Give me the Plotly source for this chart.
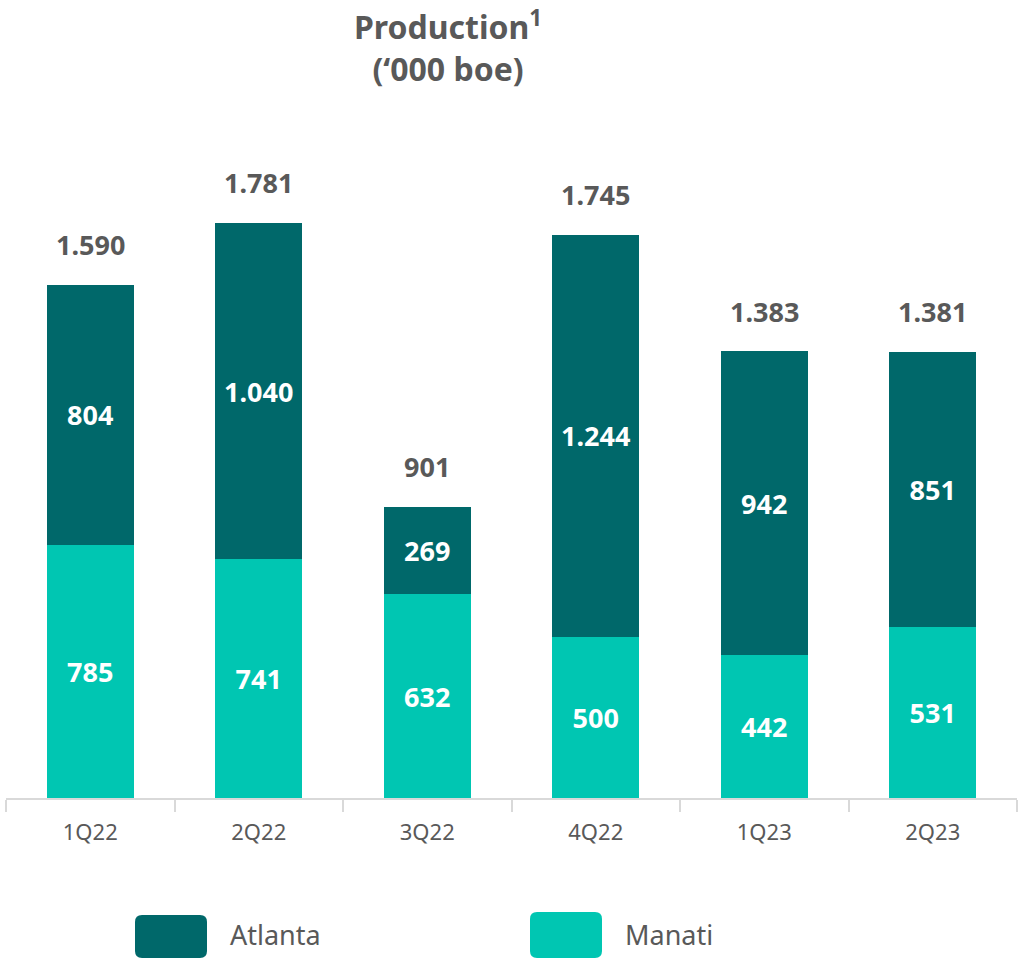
import plotly.graph_objects as go

quarters = ["1Q22", "2Q22", "3Q22", "4Q22", "1Q23", "2Q23"]
manati = [785, 741, 632, 500, 442, 531]
atlanta = [804, 1040, 269, 1244, 942, 851]
totals = [1590, 1781, 901, 1745, 1383, 1381]

C_ATL = "#00686A"
C_MAN = "#00C6B2"
GREY = "#595959"
FONT = "Noto Sans"

W, H = 1018, 960
ML, MR, MT, MB = 6, 1, 120, 162

def px(x):
    return (x - ML) / (W - ML - MR)

def py(y):
    return (H - MB - y) / (H - MT - MB)

def rounded_rect(x0, y0, x1, y1, r):
    X = lambda v: px(v)
    Y = lambda v: py(v)
    return (f"M {X(x0+r)},{Y(y0)} L {X(x1-r)},{Y(y0)} Q {X(x1)},{Y(y0)} {X(x1)},{Y(y0+r)} "
            f"L {X(x1)},{Y(y1-r)} Q {X(x1)},{Y(y1)} {X(x1-r)},{Y(y1)} "
            f"L {X(x0+r)},{Y(y1)} Q {X(x0)},{Y(y1)} {X(x0)},{Y(y1-r)} "
            f"L {X(x0)},{Y(y0+r)} Q {X(x0)},{Y(y0)} {X(x0+r)},{Y(y0)} Z")

fig = go.Figure()
fig.add_trace(go.Bar(
    x=quarters, y=manati, name="Manati", marker_color=C_MAN,
    marker_line_width=0,
    texttemplate="%{y:,}", textposition="inside", insidetextanchor="middle",
    textfont=dict(color="white", size=27, family=FONT, weight="bold"),
    showlegend=False,
))
fig.add_trace(go.Bar(
    x=quarters, y=atlanta, name="Atlanta", marker_color=C_ATL,
    marker_line_width=0,
    texttemplate="%{y:,}", textposition="inside", insidetextanchor="middle",
    textfont=dict(color="white", size=27, family=FONT, weight="bold"),
    showlegend=False,
))

for q, t in zip(quarters, totals):
    fig.add_annotation(
        x=q, y=t, text=f"{t:,}".replace(",", "."), showarrow=False,
        yanchor="bottom", yshift=20,
        font=dict(size=27, color=GREY, family=FONT, weight="bold"),
    )

# title
fig.add_annotation(
    xref="paper", yref="paper", x=px(448), y=py(0), xanchor="center", yanchor="top",
    text="<b>Production<sup>1</sup></b><br><b>(‘000 boe)</b>", showarrow=False,
    font=dict(size=32, color=GREY, family=FONT),
)

# legend
for x0, x1, y0, y1, col, label, tx in [
    (135, 207, 915, 958, C_ATL, "Atlanta", 228),
    (530, 602, 912, 958, C_MAN, "Manati", 623),
]:
    fig.add_shape(type="path", xref="paper", yref="paper",
                  path=rounded_rect(x0, y0, x1, y1, 7),
                  fillcolor=col, line_width=0)
    fig.add_annotation(xref="paper", yref="paper", x=px(tx), y=py(935),
                       xanchor="left", yanchor="middle", text=label, showarrow=False,
                       font=dict(size=27, color=GREY, family=FONT))

fig.update_layout(
    width=W, height=H, barmode="stack", bargap=0.484,
    separators=",.",
    margin=dict(l=ML, r=MR, t=MT, b=MB),
    plot_bgcolor="white", paper_bgcolor="white",
    font=dict(family=FONT, color=GREY),
    xaxis=dict(showline=True, linecolor="#D9D9D9", linewidth=2,
               ticks="outside", tickson="boundaries", ticklen=12, tickcolor="#D9D9D9",
               tickwidth=2, tickfont=dict(size=22, color=GREY, family=FONT),
               ticklabelstandoff=14, showgrid=False),
    yaxis=dict(range=[0, 2101], visible=False, showgrid=False),
    uniformtext=dict(mode=False),
)

fig.write_html("out.html")
